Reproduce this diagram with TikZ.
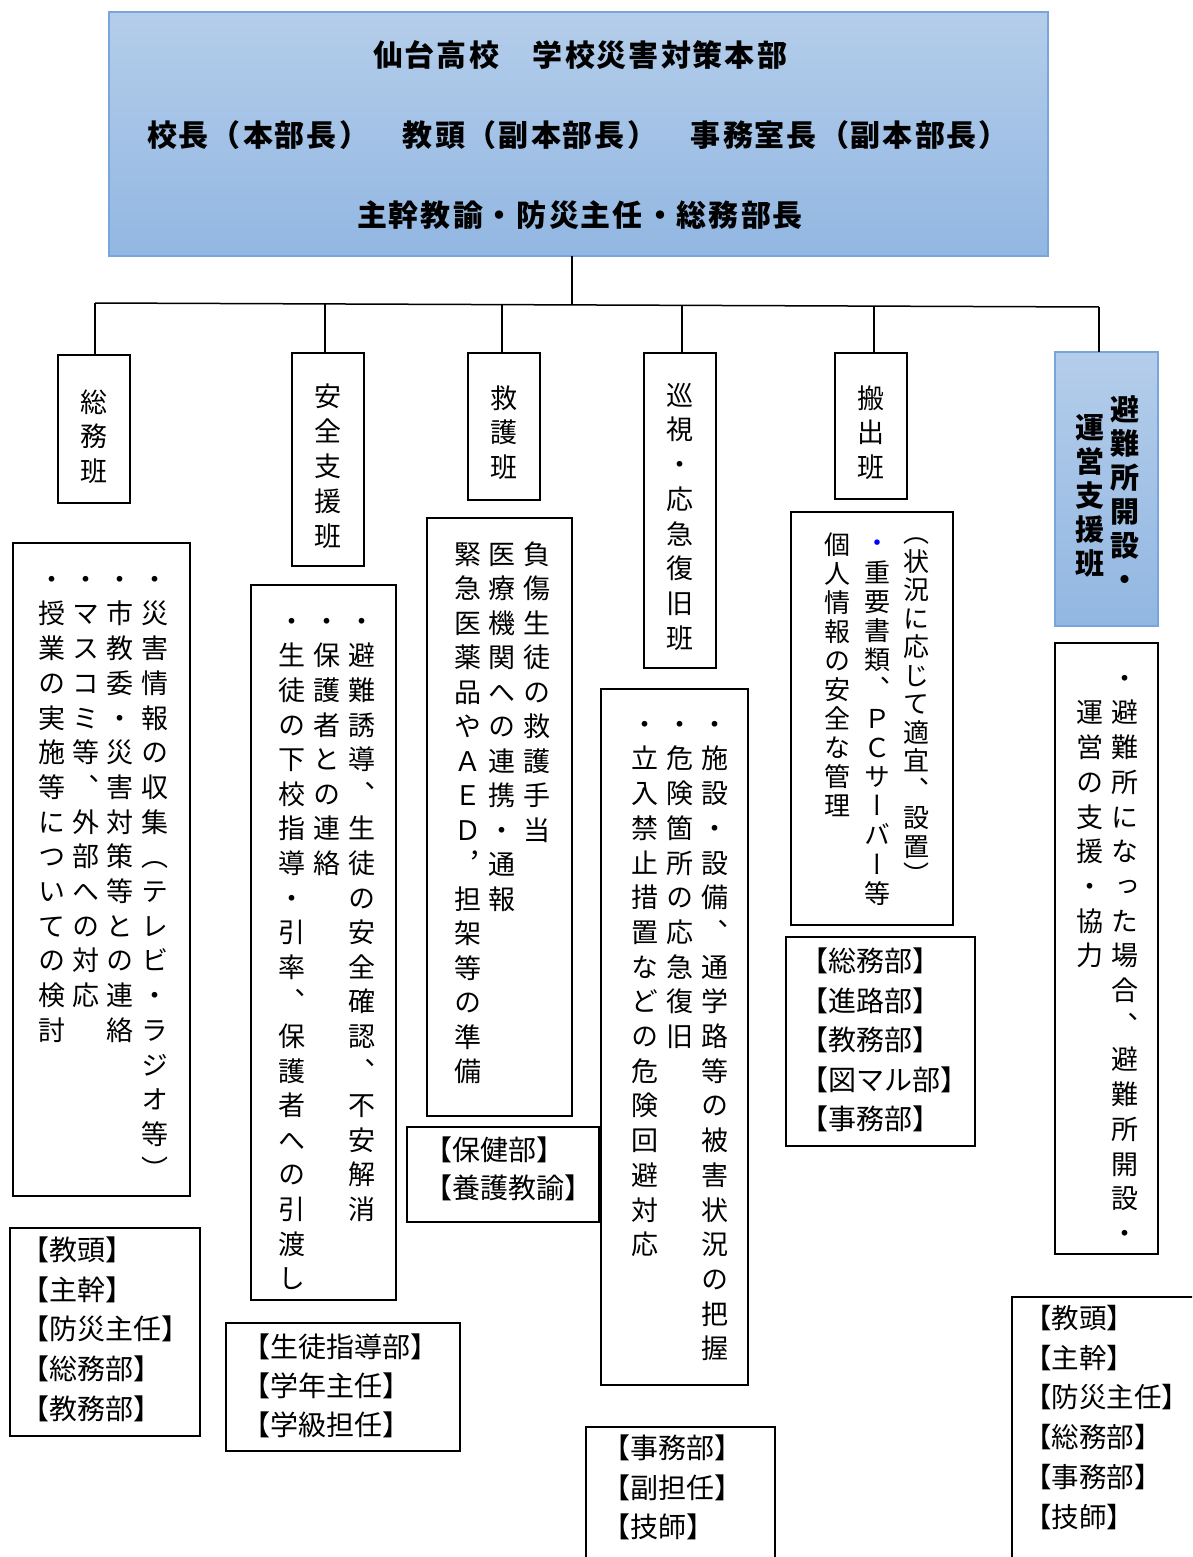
\documentclass[tikz,border=0pt]{standalone}
\usepackage{fontspec}
\setmainfont{Noto Sans CJK JP}
\newfontfamily\jpv[Script=CJK,RawFeature=+vert]{Noto Sans CJK JP}
\definecolor{bluetop}{HTML}{B4CDEA}
\definecolor{bluebot}{HTML}{92B7E2}
\definecolor{bluedraw}{HTML}{78A6DC}
\makeatletter
\newif\ifvfirst
\newcommand\vcol[2]{\vtop{\offinterlineskip\vfirsttrue\@tfor\vch:=#2\do{\ifvfirst\vfirstfalse\else\kern\dimexpr#1-1em\relax\fi\hbox to 1em{\vrule height .88em depth .12em width 0pt\hss\smash{\vch}\hss}}}}
\newcommand\hstk[2]{\vtop{\offinterlineskip\vfirsttrue\@for\hln:=#2\do{\ifvfirst\vfirstfalse\else\kern\dimexpr#1-1em\relax\fi\hbox{\vrule height .88em depth .12em width 0pt\hln}}}}
\newcommand\hrow[2]{\hbox{\@tfor\hch:=#2\do{\hbox to #1{\hss\hch\hss}}}}
\makeatother
\begin{document}
\begin{tikzpicture}[x=1pt,y=-1pt,
  frame/.style={draw=black,line width=1.6pt,inner sep=0pt,outer sep=0pt,anchor=north west},
  bluebox/.style={draw=bluedraw,line width=1.2pt,top color=bluetop,bottom color=bluebot,inner sep=0pt,outer sep=0pt,anchor=north west},
  conn/.style={line width=1.5pt},
  vt/.style={inner sep=0pt,outer sep=0pt,anchor=north,font=\jpv\fontsize{27pt}{27pt}\selectfont},
  vts/.style={vt,font=\jpv\fontsize{26pt}{26pt}\selectfont},
  vtb/.style={vt,font=\jpv\bfseries\fontsize{29pt}{29pt}\selectfont},
  ht/.style={inner sep=0pt,outer sep=0pt,anchor=north west,font=\fontsize{28pt}{28pt}\selectfont},
  hts/.style={ht,font=\fontsize{27.5pt}{27.5pt}\selectfont},
  tt/.style={inner sep=0pt,anchor=center,font=\bfseries\fontsize{30pt}{30pt}\selectfont}]
\clip (0,0) rectangle (1192,1557);
\fill[white] (0,0) rectangle (1192,1557);
% headquarters
\node[bluebox,minimum width=939pt,minimum height=244pt] (hq) at (109,12) {};
\node[tt] (hqt1) at (580,55) {\hrow{32pt}{仙台高校　学校災害対策本部}};
\node[tt] (hqt2) at (578,135) {\hrow{32pt}{校長（本部長）　教頭（副本部長）　事務室長（副本部長）}};
\node[tt] (hqt3) at (580,215) {\hrow{32pt}{主幹教諭・防災主任・総務部長}};
% group headers
\node[frame,minimum width=72pt,minimum height=148pt] (hA) at (58,355) {};
\node[vt] (hAt) at (94,388.5) {\vcol{34.5pt}{総務班}};
\node[frame,minimum width=72pt,minimum height=213pt] (hB) at (292,353) {};
\node[vt] (hBt) at (328,382.5) {\vcol{35pt}{安全支援班}};
\node[frame,minimum width=72pt,minimum height=147pt] (hC) at (468,353) {};
\node[vt] (hCt) at (504,384.5) {\vcol{34.5pt}{救護班}};
\node[frame,minimum width=72pt,minimum height=315pt] (hD) at (644,353) {};
\node[vt] (hDt) at (680,381.5) {\vcol{34.7pt}{巡視・応急復旧班}};
\node[frame,minimum width=72pt,minimum height=146pt] (hE) at (835,353) {};
\node[vt] (hEt) at (871,384.5) {\vcol{34.5pt}{搬出班}};
\node[bluebox,minimum width=103pt,minimum height=274pt] (hF) at (1055,352) {};
\node[vtb] (hFt1) at (1125,394.5) {\vcol{34pt}{避難所開設・}};
\node[vtb] (hFt2) at (1090,412.5) {\vcol{34pt}{運営支援班}};
% duties
\node[frame,minimum width=177pt,minimum height=653pt] (cA) at (13,543) {};
\node[vt] (cA1) at (155,565.5) {\vcol{34.7pt}{・災害情報の収集（テレビ・ラジオ等）}};
\node[vt] (cA2) at (120,565.5) {\vcol{34.7pt}{・市教委・災害対策等との連絡}};
\node[vt] (cA3) at (86,565.5) {\vcol{34.7pt}{・マスコミ等、外部への対応}};
\node[vt] (cA4) at (52,565.5) {\vcol{34.7pt}{・授業の実施等についての検討}};
\node[frame,minimum width=145pt,minimum height=715pt] (cB) at (251,585) {};
\node[vt] (cB1) at (362,607.5) {\vcol{34.6pt}{・避難誘導、生徒の安全確認、不安解消}};
\node[vt] (cB2) at (327,607.5) {\vcol{34.6pt}{・保護者との連絡}};
\node[vt] (cB3) at (292,607.5) {\vcol{34.6pt}{・生徒の下校指導・引率、保護者への引渡し}};
\node[frame,minimum width=145pt,minimum height=598pt] (cC) at (427,518) {};
\node[vt] (cC1) at (537,540.5) {\vcol{34.5pt}{負傷生徒の救護手当}};
\node[vt] (cC2) at (502,540.5) {\vcol{34.5pt}{医療機関への連携・通報}};
\node[vt] (cC3) at (468,540.5) {\vcol{34.5pt}{緊急医薬品やＡＥＤ，担架等の準備}};
\node[frame,minimum width=147pt,minimum height=696pt] (cD) at (601,689) {};
\node[vt] (cD1) at (715,710.5) {\vcol{34.7pt}{・施設・設備、通学路等の被害状況の把握}};
\node[vt] (cD2) at (680,710.5) {\vcol{34.7pt}{・危険箇所の応急復旧}};
\node[vt] (cD3) at (645,710.5) {\vcol{34.7pt}{・立入禁止措置などの危険回避対応}};
\node[frame,minimum width=162pt,minimum height=413pt] (cE) at (791,512) {};
\node[vts] (cE1) at (916,520) {\vcol{28.5pt}{（状況に応じて適宜、設置）}};
\node[vts] (cE2) at (877,530) {\vcol{29.2pt}{{\color{blue}・}重要書類、ＰＣサーバー等}};
\node[vts] (cE3) at (837,532) {\vcol{29pt}{個人情報の安全な管理}};
\node[frame,minimum width=103pt,minimum height=611pt] (cF) at (1055,643) {};
\node[vt] (cF1) at (1125,664.5) {\vcol{34.7pt}{・避難所になった場合、避難所開設・}};
\node[vt] (cF2) at (1090,699.2) {\vcol{34.7pt}{運営の支援・協力}};
% staff
\node[frame,minimum width=190pt,minimum height=208pt] (sA) at (10,1228) {};
\node[ht] (sAt) at (21,1236) {\hstk{39.6pt}{【教頭】,【主幹】,【防災主任】,【総務部】,【教務部】}};
\node[frame,minimum width=234pt,minimum height=128pt] (sB) at (226,1323) {};
\node[ht] (sBt) at (242,1333) {\hstk{39pt}{【生徒指導部】,【学年主任】,【学級担任】}};
\node[frame,minimum width=192pt,minimum height=95pt] (sC) at (407,1127) {};
\node[ht] (sCt) at (424,1136) {\hstk{38pt}{【保健部】,【養護教諭】}};
\node[frame,minimum width=189pt,minimum height=209pt] (sD) at (786,937) {};
\node[ht] (sDt) at (800,947) {\hstk{39.5pt}{【総務部】,【進路部】,【教務部】,【図マル部】,【事務部】}};
\node[frame,minimum width=189pt,minimum height=170pt] (sE) at (586,1427) {};
\node[ht] (sEt) at (602,1434) {\hstk{39.5pt}{【事務部】,【副担任】,【技師】}};
\node[frame,minimum width=210pt,minimum height=300pt] (sF) at (1012,1297) {};
\node[hts] (sFt) at (1024,1304) {\hstk{39.8pt}{【教頭】,【主幹】,【防災主任】,【総務部】,【事務部】,【技師】}};
% connectors
\coordinate (bT) at (572,305);
\coordinate (bA) at (95,303);
\coordinate (bB) at (325,304);
\coordinate (bC) at (502,304.5);
\coordinate (bD) at (682,305.3);
\coordinate (bE) at (874,306);
\coordinate (bF) at (1099,307);
\draw[conn] (bT |- hq.south) -- (bT);
\draw[conn] (bA) -- (bF);
\draw[conn] (bA) -- (bA |- hA.north);
\draw[conn] (bB) -- (bB |- hB.north);
\draw[conn] (bC) -- (bC |- hC.north);
\draw[conn] (bD) -- (bD |- hD.north);
\draw[conn] (bE) -- (bE |- hE.north);
\draw[conn] (bF) -- (bF |- hF.north);
\end{tikzpicture}
\end{document}
